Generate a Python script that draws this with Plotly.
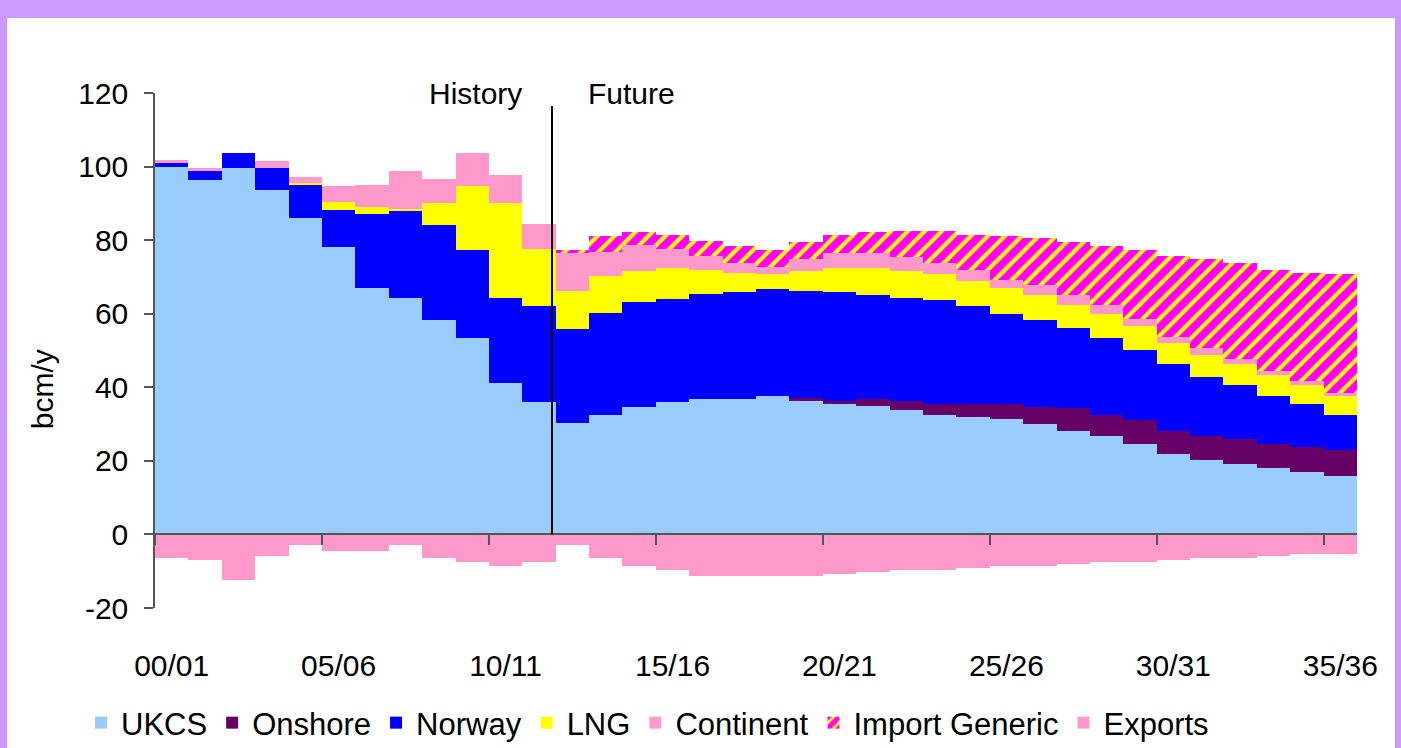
import plotly.graph_objects as go

# gas supply by source, bcm/y
years = ["00/01", "01/02", "02/03", "03/04", "04/05", "05/06", "06/07", "07/08", "08/09",
         "09/10", "10/11", "11/12", "12/13", "13/14", "14/15", "15/16", "16/17", "17/18",
         "18/19", "19/20", "20/21", "21/22", "22/23", "23/24", "24/25", "25/26", "26/27",
         "27/28", "28/29", "29/30", "30/31", "31/32", "32/33", "33/34", "34/35", "35/36"]
tick_years = ["00/01", "05/06", "10/11", "15/16", "20/21", "25/26", "30/31", "35/36"]
y_ticks = [-20, 0, 20, 40, 60, 80, 100, 120]
y_tick_text = ["-20", "0", "20", "40", "60", "80", "100", "120"]

ukcs = [100.0, 96.3, 99.5, 93.5, 86.0, 78.1, 66.9, 64.2, 58.3, 53.4, 41.1, 36.0,
        30.3, 32.4, 34.6, 36.0, 36.8, 36.8, 37.6, 36.5, 35.4, 34.9, 33.8, 32.4,
        31.9, 31.3, 30.0, 28.1, 26.7, 24.6, 21.8, 20.2, 19.1, 18.0, 16.9, 15.9]
onshore = [0, 0, 0, 0, 0, 0, 0, 0, 0, 0, 0, 0,
           0, 0, 0, 0, 0, 0, 0, 0.5, 0.8, 1.9, 2.4, 3.0,
           3.5, 4.1, 4.6, 6.2, 5.7, 6.5, 6.3, 6.5, 6.8, 6.6, 6.8, 7.0]
norway = [1.2, 2.6, 4.3, 6.2, 9.1, 10.0, 20.1, 23.9, 25.7, 23.8, 23.1, 26.0,
          25.5, 27.7, 28.5, 27.9, 28.5, 29.0, 29.0, 29.3, 29.6, 28.2, 28.0, 28.2,
          26.6, 24.4, 23.6, 21.7, 20.9, 19.0, 18.2, 16.1, 14.7, 13.0, 11.7, 9.5]
lng = [0, 0, 0, 0, 0.3, 2.4, 1.9, 0.3, 6.2, 17.4, 26.0, 15.7,
       10.3, 10.1, 8.4, 8.4, 6.5, 5.4, 4.1, 5.2, 6.5, 7.3, 7.3, 7.1,
       6.8, 7.1, 6.8, 6.5, 6.5, 6.5, 5.7, 6.1, 5.7, 5.7, 5.2, 5.2]
continent = [0.5, 0.6, 0, 1.9, 1.9, 4.1, 6.2, 10.5, 6.5, 9.2, 7.6, 6.6,
             10.3, 6.7, 7.1, 5.2, 4.0, 2.5, 1.9, 3.3, 4.1, 4.1, 3.8, 3.0,
             3.2, 2.4, 2.7, 2.5, 2.5, 1.9, 1.6, 1.9, 1.3, 1.1, 1.1, 0.8]
import_generic = [0, 0, 0, 0, 0, 0, 0, 0, 0, 0, 0, 0,
                  0.8, 4.1, 3.5, 4.0, 4.1, 4.6, 4.6, 4.6, 5.1, 5.7, 7.3, 8.9,
                  9.5, 11.7, 12.8, 14.4, 16.0, 18.7, 22.0, 24.2, 26.3, 27.4, 29.5, 32.3]
exports = [-6.4, -6.9, -12.3, -5.8, -3.0, -4.6, -4.6, -3.0, -6.4, -7.5, -8.6, -7.5,
           -3.0, -6.4, -8.6, -9.6, -11.3, -11.3, -11.3, -11.3, -10.8, -10.2, -9.6, -9.6,
           -9.0, -8.6, -8.6, -8.1, -7.5, -7.5, -7.0, -6.4, -6.4, -5.9, -5.4, -5.4]

FONT = "Liberation Sans, Arial, sans-serif"
AXIS_GREY = "#555555"

series = [
    ("UKCS", ukcs, "#99CCFF"),
    ("Onshore", onshore, "#660066"),
    ("Norway", norway, "#0000FF"),
    ("LNG", lng, "#FFFF00"),
    ("Continent", continent, "#FF99CC"),
]

fig = go.Figure()
for name, vals, col in series:
    fig.add_trace(go.Bar(x=years, y=vals, name=name,
                         marker=dict(color=col, line=dict(width=0)),
                         hoverinfo="skip"))

fig.add_trace(go.Bar(
    x=years, y=import_generic, name="Import Generic",
    marker=dict(color="#FFFF00", line=dict(width=0),
                pattern=dict(shape="/", fgcolor="#FF00FF", bgcolor="#FFFF00",
                             fgopacity=1, size=12, solidity=0.66)),
    hoverinfo="skip"))
fig.add_trace(go.Bar(x=years, y=exports, name="Exports",
                     marker=dict(color="#FF99CC", line=dict(width=0)),
                     hoverinfo="skip"))

# helper trace so the zero-line tick axis gets drawn
fig.add_trace(go.Scatter(x=[None], y=[None], xaxis="x2", showlegend=False,
                         hoverinfo="skip"))

# history / future divider
fig.add_shape(type="line", xref="x", yref="y", x0=11.39, x1=11.39, y0=0, y1=116.5,
              line=dict(color="black", width=2))

# purple frame: paper is purple, white panel on top
fig.add_shape(type="rect", xref="paper", yref="paper", layer="below",
              x0=-0.1231, x1=1.0316, y0=-0.35, y1=1.1456,
              fillcolor="white", line=dict(width=0))

fig.add_annotation(x=9.11, y=1.0, xref="x", yref="paper", text="History",
                   showarrow=False, xanchor="center", yanchor="middle",
                   font=dict(size=30, family=FONT, color="black"))
fig.add_annotation(x=13.76, y=1.0, xref="x", yref="paper", text="Future",
                   showarrow=False, xanchor="center", yanchor="middle",
                   font=dict(size=30, family=FONT, color="black"))
fig.add_annotation(x=-0.094, y=39.5, xref="paper", yref="y", text="bcm/y",
                   textangle=-90, showarrow=False, xanchor="center", yanchor="middle",
                   font=dict(size=30, family=FONT, color="black"))

fig.update_layout(
    width=1401, height=748,
    barmode="relative", bargap=0,
    paper_bgcolor="#CC99FF", plot_bgcolor="white",
    margin=dict(l=155, r=44, t=93, b=140, autoexpand=False),
    font=dict(family=FONT, size=30, color="black"),
    showlegend=True,
    legend=dict(orientation="h", xref="container", yref="container",
                x=81 / 1401, xanchor="left", y=25 / 748, yanchor="middle",
                bgcolor="rgba(0,0,0,0)", font=dict(size=31, family=FONT),
                traceorder="normal"),
    xaxis=dict(type="category", range=[-0.5, 35.5], tickvals=tick_years,
               ticks="", showline=False, showgrid=False, zeroline=False,
               ticklabelstandoff=37),
    xaxis2=dict(overlaying="x", anchor="free", position=20 / 140,
                range=[-0.5, 35.5], tickvals=[-0.5 + 5 * k for k in range(8)],
                ticks="outside", ticklen=10, tickcolor=AXIS_GREY, tickwidth=1.5,
                showticklabels=False, showline=True, linecolor=AXIS_GREY, linewidth=1.5,
                showgrid=False, zeroline=False),
    yaxis=dict(range=[-20, 120], tickvals=y_ticks, ticktext=y_tick_text,
               ticks="outside", ticklen=9, tickcolor=AXIS_GREY, tickwidth=1.5,
               showline=True, linecolor=AXIS_GREY, linewidth=1.5,
               showgrid=False, zeroline=False, ticklabelstandoff=10),
)

fig.write_html("out.html", config={"displayModeBar": False},
               post_script="document.body.style.margin='0';document.body.style.overflow='hidden';")
